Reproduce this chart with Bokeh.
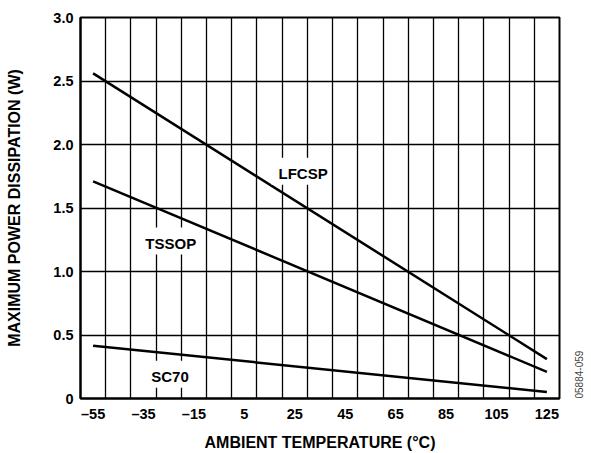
import math
from bokeh.plotting import figure
from bokeh.models import FixedTicker, Label, Range1d, LinearAxis
from bokeh.embed import file_html
from bokeh.resources import INLINE

# ---- data ----
temps = [-55, 125]
lfcsp = [2.56, 0.31]
tssop = [1.71, 0.21]
sc70 = [0.415, 0.052]

x_ticks = [-55, -35, -15, 5, 25, 45, 65, 85, 105, 125]
x_grid = [-50, -40, -30, -20, -10, 0, 10, 20, 30, 40, 50, 60, 70, 80, 90, 100, 110, 120]
y_ticks = [0, 0.5, 1.0, 1.5, 2.0, 2.5, 3.0]
y_tick_labels = ["0", "0.5", "1.0", "1.5", "2.0", "2.5", "3.0"]

series_names = ["LFCSP", "TSSOP", "SC70"]
label_x = [27.5, -25, -25.3]
label_y = [1.79, 1.24, 0.19]

watermark = "05884-059"

FONT = "Liberation Sans"

p = figure(width=591, height=453, output_backend="svg", toolbar_location=None,
           x_range=Range1d(-60, 130), y_range=Range1d(0, 3.0),
           min_border_left=80, min_border_right=32, min_border_top=17, min_border_bottom=53)

p.outline_line_color = "black"
p.outline_line_width = 2

for ys in (lfcsp, tssop, sc70):
    p.line(temps, ys, line_color="black", line_width=2.5)

# grids
p.xgrid.ticker = FixedTicker(ticks=x_grid)
p.ygrid.ticker = FixedTicker(ticks=y_ticks)
for g in (p.xgrid, p.ygrid):
    g.grid_line_color = "black"
    g.grid_line_width = 1.3
    g.grid_line_alpha = 1.0

# axes
p.xaxis.ticker = FixedTicker(ticks=x_ticks)
p.xaxis.major_label_overrides = {t: (("\u2013" + str(-t)) if t < 0 else str(t)) for t in x_ticks}
p.yaxis.ticker = FixedTicker(ticks=y_ticks)
p.yaxis.major_label_overrides = {t: s for t, s in zip(y_ticks, y_tick_labels)}

for ax in (p.xaxis, p.yaxis):
    ax.axis_line_color = "black"
    ax.axis_line_width = 2
    ax.major_tick_line_color = None
    ax.minor_tick_line_color = None
    ax.major_tick_out = 0
    ax.major_tick_in = 0
    ax.minor_tick_out = 0
    ax.minor_tick_in = 0
    ax.major_label_text_font = FONT
    ax.major_label_text_font_style = "bold"
    ax.major_label_text_font_size = "14.5px"
    ax.major_label_text_color = "black"
    ax.axis_label_text_font = FONT
    ax.axis_label_text_font_style = "bold"
    ax.axis_label_text_font_size = "16px"
    ax.axis_label_text_color = "black"

p.xaxis.axis_label = "AMBIENT TEMPERATURE (\u00b0C)"
p.yaxis.axis_label = "MAXIMUM POWER DISSIPATION (W)"
p.xaxis.major_label_standoff = 7
p.yaxis.major_label_standoff = 7
p.xaxis.axis_label_standoff = 9
p.yaxis.axis_label_standoff = 27

for name, lx, ly in zip(series_names, label_x, label_y):
    p.add_layout(Label(x=lx, y=ly, text=name, text_align="center", text_baseline="middle",
                       text_font=FONT, text_font_style="bold", text_font_size="15px",
                       text_color="black", background_fill_color="white",
                       background_fill_alpha=1.0, padding=(7, 3, 7, 3)))

# watermark as a rotated label on an otherwise invisible right axis (not clipped to frame)
wm_axis = LinearAxis(ticker=FixedTicker(ticks=[0]),
                     major_label_overrides={0: watermark},
                     major_label_orientation=math.pi / 2,
                     axis_line_color=None, major_tick_line_color=None, minor_tick_line_color=None,
                     major_tick_out=0, major_tick_in=0, minor_tick_out=0, minor_tick_in=0,
                     major_label_standoff=19,
                     major_label_text_font=FONT, major_label_text_font_size="10px",
                     major_label_text_color="#444444")
p.add_layout(wm_axis, "right")

open("out.html", "w").write(file_html(p, INLINE))
